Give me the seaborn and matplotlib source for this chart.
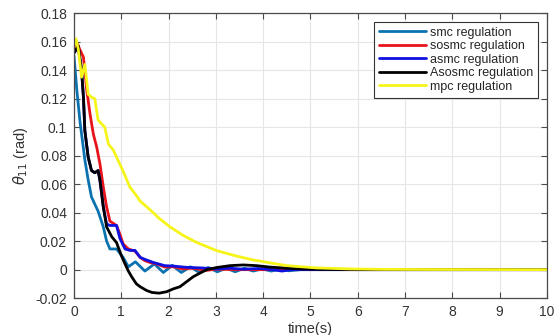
import numpy as np
import pandas as pd
import seaborn as sns
import matplotlib
matplotlib.use("Agg")
import matplotlib.pyplot as plt
from matplotlib.ticker import FuncFormatter

# values
smc_t = [0, 0.06, 0.13, 0.23, 0.30, 0.37, 0.51, 0.62, 0.69, 0.76, 0.90, 1.04, 1.15,
         1.30, 1.50, 1.70, 1.89, 2.08, 2.27, 2.46, 2.65, 2.84, 3.03, 3.22, 3.41,
         3.60, 3.79, 3.98, 4.17, 4.36, 4.55, 4.8, 5.5, 10]
smc_v = [0.150, 0.126, 0.103, 0.077, 0.063, 0.051, 0.041, 0.030, 0.020, 0.0145, 0.0145, 0.0086, 0.002,
         0.0055, -0.001, 0.004, -0.002, 0.003, -0.002, 0.002, -0.002, 0.0015, -0.0015, 0.001, -0.0015,
         0.001, -0.001, 0.0005, -0.001, 0.0003, -0.0008, 0.0, 0.0, 0.0]

sosmc_t = [0, 0.08, 0.13, 0.20, 0.27, 0.34, 0.41, 0.48, 0.55, 0.62, 0.69, 0.76, 0.90, 0.97,
           1.04, 1.15, 1.29, 1.40, 1.50, 1.61, 1.75, 1.92, 2.1, 2.3, 2.5, 2.8, 3.0, 3.5, 4, 5, 6, 10]
sosmc_v = [0.155, 0.158, 0.154, 0.149, 0.126, 0.109, 0.095, 0.086, 0.074, 0.058, 0.044, 0.034, 0.031, 0.025,
           0.018, 0.0145, 0.013, 0.0086, 0.0063, 0.005, 0.004, 0.0018, 0.002, 0.0005, 0.001, -0.0005, 0.0003, 0, 0, 0, 0, 0]

asmc_t = [0, 0.09, 0.16, 0.20, 0.23, 0.30, 0.37, 0.44, 0.51, 0.55, 0.62, 0.69, 0.76, 0.90, 0.97,
          1.08, 1.18, 1.29, 1.40, 1.50, 1.68, 1.92, 2.1, 2.38, 2.7, 3.02, 3.3, 3.58, 3.9, 4.2, 4.4, 4.6,
          5, 6, 10]
asmc_v = [0.152, 0.156, 0.140, 0.121, 0.0975, 0.079, 0.0695, 0.068, 0.0695, 0.0625, 0.044, 0.032, 0.031, 0.031, 0.022,
          0.0145, 0.0135, 0.0135, 0.0086, 0.0072, 0.005, 0.0028, 0.0025, 0.0016, 0.0012, 0.0005, 0.001, 0.0003, 0.0008, 0.0, -0.001, 0.0,
          0, 0, 0]

asosmc_t = [0, 0.09, 0.16, 0.20, 0.23, 0.30, 0.37, 0.44, 0.51, 0.55, 0.62, 0.69, 0.80, 0.90, 1.0,
            1.08, 1.15, 1.22, 1.32, 1.40, 1.54, 1.65, 1.80, 1.96, 2.10, 2.24, 2.38, 2.52, 2.66, 2.81,
            3.02, 3.30, 3.58, 3.86, 4.14, 4.5, 4.8, 5.2, 5.6, 6, 10]
asosmc_v = [0.152, 0.157, 0.140, 0.121, 0.0975, 0.079, 0.0695, 0.068, 0.0695, 0.0625, 0.044, 0.030, 0.023, 0.019, 0.010,
            0.004, -0.001, -0.005, -0.010, -0.012, -0.0147, -0.016, -0.0165, -0.0155, -0.0135, -0.012, -0.0085, -0.005, -0.0025, 0.0,
            0.0015, 0.0028, 0.0033, 0.0028, 0.0018, 0.001, 0.0005, 0.0002, 0.0001, 0, 0]

mpc_t = [0, 0.04, 0.09, 0.16, 0.23, 0.30, 0.37, 0.44, 0.51, 0.59, 0.65, 0.73, 0.83, 0.97,
         1.04, 1.18, 1.32, 1.40, 1.61, 1.8, 2.03, 2.31, 2.6, 3.02, 3.44, 3.79, 4.14, 4.5,
         5.13, 5.83, 6.5, 7.5, 10]
mpc_v = [0.156, 0.162, 0.155, 0.135, 0.144, 0.123, 0.121, 0.120, 0.105, 0.102, 0.100, 0.088, 0.084, 0.074,
         0.069, 0.058, 0.052, 0.048, 0.042, 0.036, 0.030, 0.024, 0.019, 0.0133, 0.0095, 0.0068, 0.0048, 0.0028,
         0.0012, 0.0005, 0.0002, 0.0001, 0.0]

names = ["smc regulation", "sosmc regulation", "asmc regulation", "Asosmc regulation", "mpc regulation"]
colores = ["#0a72b0", "#e8141b", "#1010e0", "#000000", "#f5f51a"]

series = [(smc_t, smc_v), (sosmc_t, sosmc_v), (asmc_t, asmc_v), (asosmc_t, asosmc_v), (mpc_t, mpc_v)]
frames = []
for name, (t, v) in zip(names, series):
    frames.append(pd.DataFrame({"t": t, "v": v, "method": name}))
df = pd.concat(frames, ignore_index=True)

sns.set_theme(style="whitegrid")
plt.rcParams["font.family"] = ["Liberation Sans", "DejaVu Sans"]
plt.rcParams["axes.unicode_minus"] = False

fig = plt.figure(figsize=(5.55, 3.35), dpi=100)
ax = fig.add_axes([0.1333, 0.110, 0.852, 0.851])

sns.lineplot(data=df, x="t", y="v", hue="method", hue_order=names,
             palette=colores, estimator=None, sort=False, linewidth=2.0, ax=ax)

ax.set_xlim(0, 10)
ax.set_ylim(-0.02, 0.18)
ax.set_xticks(np.arange(0, 11, 1))
ax.set_yticks(np.arange(-0.02, 0.1801, 0.02))
fmt = FuncFormatter(lambda x, pos: "0" if abs(x) < 1e-9 else f"{x:g}")
ax.xaxis.set_major_formatter(fmt)
ax.yaxis.set_major_formatter(fmt)

ax.grid(True, color="#e6e6e6", linewidth=0.8)
for s in ax.spines.values():
    s.set_color("#4a4a4a")
    s.set_linewidth(0.9)
ax.tick_params(direction="in", length=4, width=0.8, color="#4a4a4a",
               labelsize=10, labelcolor="#333333", top=True, right=True,
               bottom=True, left=True, pad=5)

ax.set_xlabel("time(s)", fontsize=10.5, color="#333333", labelpad=2)
ax.set_ylabel(r"$\theta_{11}$ (rad)", fontsize=10.5, color="#333333", labelpad=4)

leg = ax.legend(loc="upper right", fontsize=9, handlelength=3.8, frameon=True,
                fancybox=False, borderaxespad=0.7, labelspacing=0.12,
                handletextpad=0.3, borderpad=0.4)
leg.get_frame().set_edgecolor("#333333")
leg.get_frame().set_linewidth(0.8)
leg.get_frame().set_alpha(1)
for line in leg.get_lines():
    line.set_linewidth(2.0)

plt.savefig("out.png", dpi=100)
